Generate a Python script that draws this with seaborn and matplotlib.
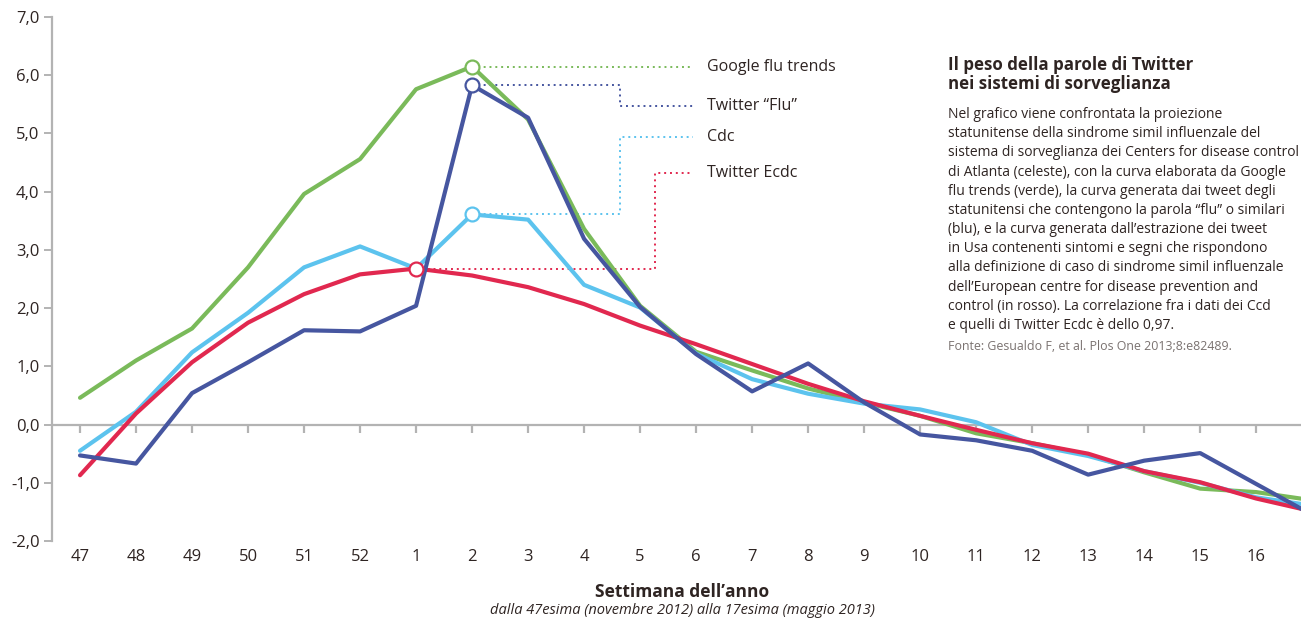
import pandas as pd
import matplotlib.pyplot as plt
import seaborn as sns
from matplotlib.ticker import FuncFormatter

# Settimane (l'ultima cade oltre il bordo destro e viene tagliata)
settimane = [47, 48, 49, 50, 51, 52, 1, 2, 3, 4, 5, 6, 7, 8, 9, 10, 11, 12, 13, 14, 15, 16, 17]

google = [0.46, 1.10, 1.65, 2.70, 3.96, 4.56, 5.76, 6.15, 5.24, 3.36, 2.04, 1.25, 0.93, 0.62,
          0.38, 0.15, -0.15, -0.32, -0.52, -0.82, -1.10, -1.16, -1.30]
twitter_flu = [-0.53, -0.67, 0.54, 1.07, 1.62, 1.60, 2.04, 5.83, 5.27, 3.19, 2.02, 1.21, 0.57, 1.05,
               0.38, -0.17, -0.27, -0.45, -0.86, -0.62, -0.49, -1.02, -1.55]
cdc = [-0.45, 0.22, 1.24, 1.92, 2.70, 3.06, 2.68, 3.61, 3.52, 2.40, 2.01, 1.22, 0.78, 0.53,
       0.36, 0.26, 0.04, -0.35, -0.54, -0.80, -1.00, -1.25, -1.39]
twitter_ecdc = [-0.87, 0.19, 1.07, 1.75, 2.24, 2.58, 2.68, 2.56, 2.36, 2.07, 1.70, 1.38, 1.04, 0.70,
                0.40, 0.15, -0.09, -0.32, -0.50, -0.80, -0.99, -1.27, -1.49]

serie = ["Google flu trends", "Cdc", "Twitter Ecdc", "Twitter \u201cFlu\u201d"]
colori = {"Google flu trends": "#7aba5a", "Twitter \u201cFlu\u201d": "#4656a0",
          "Cdc": "#5cc3ee", "Twitter Ecdc": "#e1284f"}

# punti evidenziati: serie -> indice settimana
evidenziati = {"Google flu trends": 7, "Twitter \u201cFlu\u201d": 7, "Cdc": 7, "Twitter Ecdc": 6}

testo = "#2e2422"
grigio = "#b3b3b3"

valori = {"Google flu trends": google, "Twitter \u201cFlu\u201d": twitter_flu,
          "Cdc": cdc, "Twitter Ecdc": twitter_ecdc}
righe = []
for nome, vals in valori.items():
    for i, v in enumerate(vals):
        righe.append({"pos": i, "valore": v, "serie": nome})
df = pd.DataFrame(righe)

sns.set_style("white")
plt.rcParams['font.family'] = ['Open Sans', 'DejaVu Sans']

fig = plt.figure(figsize=(13.07, 6.21), dpi=100)
ax = fig.add_axes([0.0398, 0.1288, 0.9556, 0.8438])

# linea dello zero con le tacche
ax.axhline(0, color=grigio, lw=1.6, zorder=1)
ax.vlines(range(22), -0.14, 0, color=grigio, lw=1.6, zorder=1)

sns.lineplot(data=df, x="pos", y="valore", hue="serie", hue_order=serie,
             palette=colori, lw=3, legend=False, ax=ax, zorder=3)

# linee guida tratteggiate verso le etichette
x_fine = 10.94
guide = {
    "Google flu trends": ([], 6.15),
    "Twitter \u201cFlu\u201d": ([9.65], 5.47),
    "Cdc": ([9.65], 4.94),
    "Twitter Ecdc": ([10.26], 4.32),
}
for nome, (gomiti, y_lab) in guide.items():
    i = evidenziati[nome]
    y0 = valori[nome][i]
    xs, ys = [i], [y0]
    for g in gomiti:
        xs += [g, g]
        ys += [y0, y_lab]
    xs.append(x_fine)
    ys.append(y_lab)
    ax.plot(xs, ys, ls=(0, (1, 2)), lw=1.4, color=colori[nome], zorder=2)
    ax.plot(i, y0, 'o', ms=10, mfc='white', mec=colori[nome], mew=1.6, zorder=5)
    ax.text(x_fine + 0.25, y_lab, nome, fontsize=11.5, color=testo, va='center', ha='left')

ax.set_xlim(-0.5, 21.8)
ax.set_ylim(-2, 7)
ax.set_xticks(range(22))
ax.set_xticklabels([str(s) for s in settimane[:22]])
ax.set_yticks(range(-2, 8))
ax.yaxis.set_major_formatter(FuncFormatter(lambda v, p: f"{v:.1f}".replace('.', ',')))
ax.tick_params(axis='x', length=0, pad=6, labelsize=12, labelcolor=testo)
ax.tick_params(axis='y', left=True, length=6, width=1.4, color=grigio, pad=3,
               labelsize=12, labelcolor=testo)
for lato in ["top", "right", "bottom"]:
    ax.spines[lato].set_visible(False)
ax.spines["left"].set_color(grigio)
ax.spines["left"].set_linewidth(1.6)
ax.set_xlabel("")
ax.set_ylabel("")

fig.text(0.522, 1 - 592 / 621, "Settimana dell\u2019anno", ha='center', va='center',
         fontsize=12.5, fontweight='bold', color=testo)
fig.text(0.522, 1 - 610 / 621, "dalla 47esima (novembre 2012) alla 17esima (maggio 2013)",
         ha='center', va='center', fontsize=10.5, style='italic', color=testo)

# box di testo a destra
x_box = 948 / 1307
fig.text(x_box, 1 - 56 / 621, "Il peso della parole di Twitter\nnei sistemi di sorveglianza",
         ha='left', va='top', fontsize=12.2, fontweight='bold', color=testo, linespacing=1.1)
corpo = ("Nel grafico viene confrontata la proiezione\n"
         "statunitense della sindrome simil influenzale del\n"
         "sistema di sorveglianza dei Centers for disease control\n"
         "di Atlanta (celeste), con la curva elaborata da Google\n"
         "flu trends (verde), la curva generata dai tweet degli\n"
         "statunitensi che contengono la parola \u201cflu\u201d o similari\n"
         "(blu), e la curva generata dall\u2019estrazione dei tweet\n"
         "in Usa contenenti sintomi e segni che rispondono\n"
         "alla definizione di caso di sindrome simil influenzale\n"
         "dell\u2019European centre for disease prevention and\n"
         "control (in rosso). La correlazione fra i dati dei Ccd\n"
         "e quelli di Twitter Ecdc \u00e8 dello 0,97.")
fig.text(x_box, 1 - 107 / 621, corpo, ha='left', va='top', fontsize=10.0,
         color=testo, linespacing=1.38)
fig.text(x_box, 1 - 347 / 621, "Fonte: Gesualdo F, et al. Plos One 2013;8:e82489.",
         ha='left', va='center', fontsize=8.9, color="#7a7270")

fig.savefig("out.png", dpi=100)
